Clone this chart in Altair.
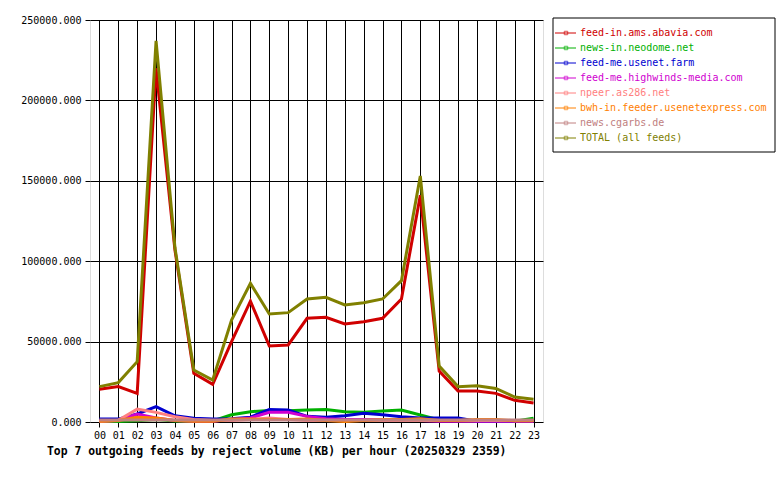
import altair as alt
import pandas as pd

hours = ["%02d" % h for h in range(24)]

series_names = [
    "feed-in.ams.abavia.com",
    "news-in.neodome.net",
    "feed-me.usenet.farm",
    "feed-me.highwinds-media.com",
    "npeer.as286.net",
    "bwh-in.feeder.usenetexpress.com",
    "news.cgarbs.de",
    "TOTAL (all feeds)",
]
series_colors = ["#d00000", "#00b000", "#0000d0", "#d000d0",
                 "#ff8080", "#ff8000", "#c08080", "#808000"]

feed_in_ams = [20300, 22000, 17800, 220000, 107000, 30300, 23400, 50000, 75200, 47300,
               47900, 64500, 65100, 61000, 62400, 64500, 76500, 141000, 31700, 19300,
               19300, 17800, 13500, 11800]
news_in_neodome = [300, 300, 800, 1500, 600, 300, 600, 4500, 6400, 7200,
                   7000, 7500, 7800, 6400, 6000, 6800, 7500, 4400, 1200, 800,
                   600, 600, 500, 2300]
feed_me_usenet = [1800, 1800, 5000, 9500, 3900, 2300, 1800, 2000, 3000, 7800,
                  7500, 3500, 3000, 3900, 5400, 4500, 3300, 2500, 2500, 2500,
                  500, 500, 500, 500]
feed_me_highwinds = [500, 1000, 5000, 2500, 1000, 500, 500, 1500, 2500, 6000,
                     6000, 3500, 2000, 1500, 1500, 1500, 1500, 1000, 500, 500,
                     500, 500, 500, 500]
npeer_as286 = [500, 1000, 8000, 6000, 3300, 1500, 1000, 1000, 1500, 2500,
               1500, 1000, 1000, 1000, 1000, 1000, 1000, 1000, 1000, 1000,
               1000, 1000, 1000, 1000]
bwh_in_usenetexpress = [500, 1000, 3000, 2500, 1000, 500, 500, 1800, 1800, 1500,
                        1500, 1800, 1000, 300, 1000, 1500, 1500, 2000, 1000, 1000,
                        1500, 1500, 800, 800]
news_cgarbs = [1200, 1200, 1200, 1300, 1200, 1200, 1200, 1200, 1200, 1200,
               1200, 1200, 1200, 1200, 1200, 1200, 1200, 1200, 1200, 1200,
               1200, 1200, 1200, 1200]
total_all = [22000, 24500, 37500, 237000, 108500, 32300, 26100, 63400, 86200, 67200,
             68000, 76500, 77500, 72800, 74200, 76500, 87900, 153000, 34800, 22000,
             22600, 20900, 15500, 14200]

y_ticks = [0, 50000, 100000, 150000, 200000, 250000]

all_series = [feed_in_ams, news_in_neodome, feed_me_usenet, feed_me_highwinds,
              npeer_as286, bwh_in_usenetexpress, news_cgarbs, total_all]

rows = []
for i, (name, vals) in enumerate(zip(series_names, all_series)):
    for h, v in zip(hours, vals):
        rows.append({"series": name, "hour": h, "value": v, "idx": i})
df = pd.DataFrame(rows)
legend_df = pd.DataFrame({"series": series_names})

MONO = "DejaVu Sans Mono"

color = alt.Color("series:N", scale=alt.Scale(domain=series_names, range=series_colors), legend=None)

lines = alt.Chart(df).mark_line(strokeWidth=3, strokeJoin="miter").encode(
    x=alt.X("hour:O", sort=hours,
            scale=alt.Scale(type="point", padding=0.5),
            axis=alt.Axis(title=None, labelAngle=0, grid=True, gridColor="black", gridOpacity=1,
                          tickSize=5, tickColor="black", labelPadding=3, domain=False,
                          labelFont=MONO, labelFontSize=10, labelColor="black")),
    y=alt.Y("value:Q", scale=alt.Scale(domain=[0, 250000], nice=False),
            axis=alt.Axis(title=None, values=y_ticks, format=".3f", grid=True, gridColor="black",
                          gridOpacity=1, tickSize=5, tickColor="black", labelPadding=4, domain=False,
                          labelFont=MONO, labelFontSize=10, labelColor="black")),
    color=color,
    detail="idx:N",
)

leg_y = alt.Y("series:N", sort=series_names,
              scale=alt.Scale(type="point", range=[13, 118], padding=0), axis=None)

legend_box = alt.Chart(alt.Data(values=[{}])).mark_rect(fill="white", stroke="black", strokeWidth=1).encode(
    x=alt.value(463), x2=alt.value(685), y=alt.value(-2), y2=alt.value(132))

legend_rule = alt.Chart(legend_df).mark_rule(strokeWidth=1).encode(
    x=alt.value(465), x2=alt.value(486), y=leg_y, color=color)

legend_pt = alt.Chart(legend_df).mark_point(shape="square", size=12, filled=False, strokeWidth=1).encode(
    x=alt.value(476), y=leg_y, color=color)

legend_txt = alt.Chart(legend_df).mark_text(align="left", baseline="middle", font=MONO, fontSize=10).encode(
    x=alt.value(490), y=leg_y, text="series:N", color=color)

chart = alt.layer(lines, legend_box, legend_rule, legend_pt, legend_txt).resolve_scale(
    y="independent"
).properties(
    width=453, height=402,
    autosize=alt.AutoSizeParams(type="none"),
    padding={"left": 90, "top": 20, "right": 237, "bottom": 58},
    title=alt.TitleParams(
        text="Top 7 outgoing feeds by reject volume (KB) per hour (20250329 2359)",
        orient="bottom", anchor="start", frame="group", dx=-43, offset=6,
        font=MONO, fontSize=11.4, fontWeight="bold", color="black"),
).configure_view(
    fill="#e0e0e0", stroke="black", strokeWidth=1
).configure(background="white")

chart.save("out.html", embed_options={"renderer": "svg", "actions": False})
